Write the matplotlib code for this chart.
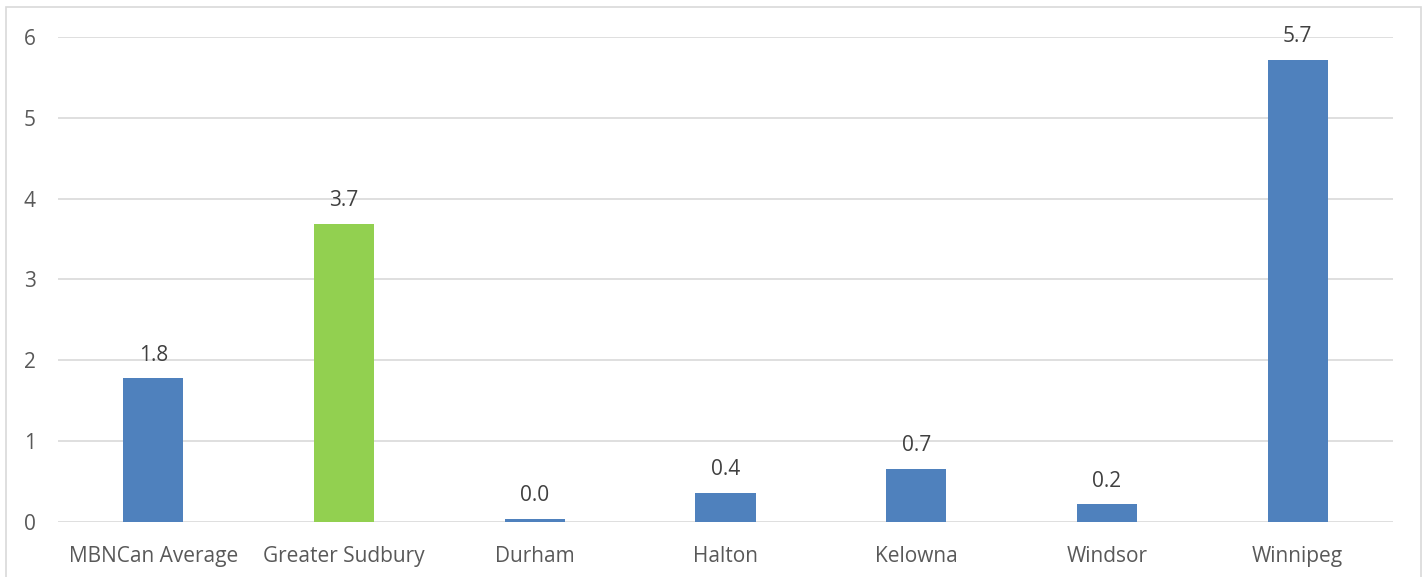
import numpy as np
import matplotlib.pyplot as plt
from matplotlib.patches import Rectangle

categories = ['MBNCan Average', 'Greater Sudbury', 'Durham', 'Halton', 'Kelowna', 'Windsor', 'Winnipeg']
values = [1.78, 3.69, 0.04, 0.36, 0.66, 0.22, 5.72]
colors = ['#4F81BD', '#92D050', '#4F81BD', '#4F81BD', '#4F81BD', '#4F81BD', '#4F81BD']
yticks = [0, 1, 2, 3, 4, 5, 6]

plt.rcParams['font.family'] = ['Open Sans', 'DejaVu Sans']
text_color = '#595959'

fig = plt.figure(figsize=(14.27, 5.77), dpi=100)
ax = fig.add_axes([0.0406, 0.0953, 0.9356, 0.8406])

x = np.arange(len(categories))
bars = ax.bar(x, values, width=0.315, color=colors, zorder=3)

# etiquetas de valor encima de cada barra
for xi, v in zip(x, values):
    ax.annotate(f'{v:.1f}', (xi, v), xytext=(0, 9), textcoords='offset points',
                ha='center', va='bottom', fontsize=15, color='#404040',
                clip_on=False, zorder=4)

ax.set_xlim(-0.5, len(categories) - 0.5)
ax.set_ylim(0, 6)
ax.set_yticks(yticks)
ax.set_xticks(x)
ax.set_xticklabels(categories)
ax.tick_params(axis='both', length=0, labelsize=15, labelcolor=text_color)
ax.tick_params(axis='y', pad=16)
ax.tick_params(axis='x', pad=17)
ax.grid(axis='y', color='#D9D9D9', linewidth=1.2, zorder=0)
for s in ax.spines.values():
    s.set_visible(False)

# marco del gráfico
fig.patches.append(Rectangle((0.0039, -0.02), 0.9919, 1.008, transform=fig.transFigure,
                             fill=False, edgecolor='#D9D9D9', linewidth=1.2))

fig.savefig('out.png', dpi=100)
